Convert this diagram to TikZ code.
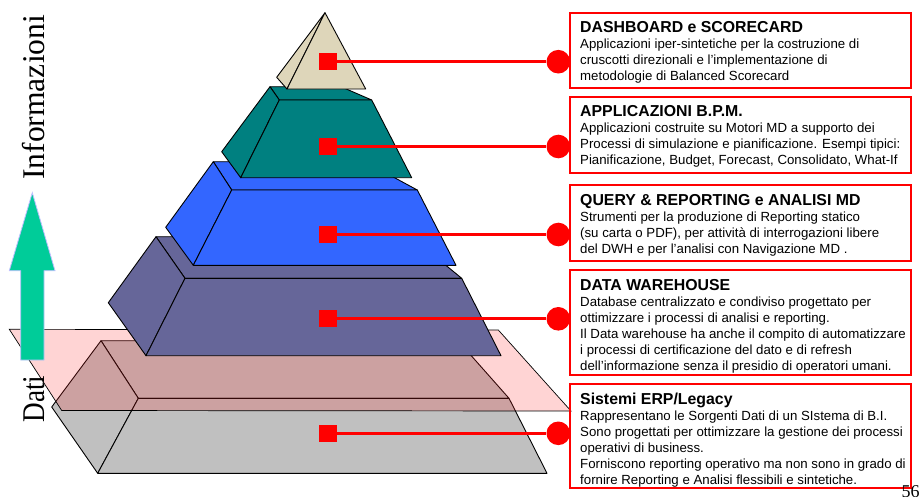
\documentclass[tikz,border=0pt]{standalone}
\usepackage{graphicx}
\usepackage{fontspec}
\setmainfont{Liberation Serif}
\setsansfont{Liberation Sans}

\definecolor{tipbeige}{RGB}{222,214,186}
\definecolor{layerteal}{RGB}{0,128,128}
\definecolor{layerblue}{RGB}{51,102,255}
\definecolor{layerpurple}{RGB}{102,102,153}
\definecolor{layergray}{RGB}{192,192,192}
\definecolor{planepink}{RGB}{255,40,40}
\definecolor{arrowgreen}{RGB}{0,204,153}
\definecolor{arrowedge}{RGB}{190,190,255}
\definecolor{markred}{RGB}{255,0,0}

\newcommand\boxtitle[1]{{\fontsize{15.85}{16}\selectfont\bfseries #1}}

\begin{document}
\begin{tikzpicture}[x=1pt,y=-1pt,
  face/.style={draw=black,line width=0.9pt,line join=round},
  marker/.style={rectangle,fill=markred,minimum size=17.3pt,inner sep=0pt},
  dot/.style={circle,fill=markred,minimum size=23.6pt,inner sep=0pt},
  conn/.style={draw=markred,line width=3pt},
  infobox/.style={rectangle,draw=markred,line width=2pt,anchor=north west,
    inner sep=0pt,outer sep=0pt,minimum width=341pt},
  boxtext/.style={anchor=base west,inner sep=0pt,
    font=\sffamily\fontsize{13.25}{16}\selectfont},
  sidelabel/.style={rotate=90,anchor=base west,inner sep=0pt,
    font=\rmfamily\fontsize{31.6}{36}\selectfont}]
\useasboundingbox (0,0) rectangle (922,496);

% --- base layer: ERP / legacy systems
\filldraw[face,fill=layergray] (101,340.7) -- (458,340.7) -- (509,398.3) -- (138.3,398.3) -- cycle;
\filldraw[face,fill=layergray] (101,340.7) -- (138.3,398.3) -- (97.7,473.3) -- (51.7,407) -- cycle;
\filldraw[face,fill=layergray] (138.3,398.3) -- (509,398.3) -- (547,473.3) -- (97.7,473.3) -- cycle;

% --- translucent separation plane between data and information
\filldraw[fill=planepink,fill opacity=0.2,draw=black,line width=0.7pt]
  (9.3,329.3) -- (498.3,330) -- (571,411) -- (61.7,410.5) -- cycle;

% --- data warehouse layer
\filldraw[face,fill=layerpurple] (156,236.7) -- (411,236.7) -- (461.7,278.3) -- (185,278.3) -- cycle;
\filldraw[face,fill=layerpurple] (156,236.7) -- (185,278.3) -- (146,355.7) -- (108.3,302.7) -- cycle;
\filldraw[face,fill=layerpurple] (185,278.3) -- (461.7,278.3) -- (501,355.7) -- (146,355.7) -- cycle;

% --- query & reporting layer
\filldraw[face,fill=layerblue] (213.3,161.7) -- (365,161.7) -- (417.3,190) -- (231.7,190) -- cycle;
\filldraw[face,fill=layerblue] (213.3,161.7) -- (231.7,190) -- (193.3,265.3) -- (165.7,227.3) -- cycle;
\filldraw[face,fill=layerblue] (231.7,190) -- (417.3,190) -- (456,265.3) -- (193.3,265.3) -- cycle;

% --- BPM layer
\filldraw[face,fill=layerteal] (270,86.7) -- (341,86.7) -- (371.7,100) -- (279.3,100) -- cycle;
\filldraw[face,fill=layerteal] (270,86.7) -- (279.3,100) -- (240.7,177.7) -- (221.7,151.7) -- cycle;
\filldraw[face,fill=layerteal] (279.3,100) -- (371.7,100) -- (411.7,177.7) -- (240.7,177.7) -- cycle;

% --- dashboard tip
\filldraw[face,fill=tipbeige] (325,12.7) -- (287,89) -- (276.7,77.3) -- cycle;
\filldraw[face,fill=tipbeige] (325,12.7) -- (365.7,89) -- (287,89) -- cycle;

% --- upward arrow from data to information
\filldraw[fill=arrowgreen,draw=arrowedge,line width=0.8pt,line join=miter]
  (20.7,360) -- (20.7,270.7) -- (9.3,270.7) -- (32.3,192.7) -- (55,270.7)
  -- (44,270.7) -- (44,360) -- cycle;
\node[sidelabel] (info) at (45,180) {Informazioni};
\node[sidelabel] (dati) at (45,422.7) {\scalebox{0.86}[1]{Dati}};

% --- description boxes
\node[infobox,minimum height=75pt]   (b1) at (570,12.7) {};
\node[infobox,minimum height=76.6pt] (b2) at (570,96.7) {};
\node[infobox,minimum height=76pt]   (b3) at (570,185) {};
\node[infobox,minimum height=105pt]  (b4) at (570,270) {};
\node[infobox,minimum height=104.3pt](b5) at (570,384) {};

\node[boxtext] (t1) at (580,32.6) {\begin{tabular}[t]{@{}l@{}}
  \boxtitle{DASHBOARD e SCORECARD}\\
  Applicazioni iper-sintetiche per la costruzione di\\
  cruscotti direzionali e l’implementazione di\\
  metodologie di Balanced Scorecard\end{tabular}};
\node[boxtext] (t2) at (580,116.7) {\begin{tabular}[t]{@{}l@{}}
  \boxtitle{APPLICAZIONI B.P.M.}\\
  Applicazioni costruite su Motori MD a supporto dei\\
  Processi di simulazione e pianificazione. Esempi tipici:\\
  Pianificazione, Budget, Forecast, Consolidato, What-If\end{tabular}};
\node[boxtext] (t3) at (580,205.7) {\begin{tabular}[t]{@{}l@{}}
  \boxtitle{QUERY \& REPORTING e ANALISI MD}\\
  Strumenti per la produzione di Reporting statico\\
  (su carta o PDF), per attività di interrogazioni libere\\
  del DWH e per l’analisi con Navigazione MD .\end{tabular}};
\node[boxtext] (t4) at (580,290) {\begin{tabular}[t]{@{}l@{}}
  \boxtitle{DATA WAREHOUSE}\\
  Database centralizzato e condiviso progettato per\\
  ottimizzare i processi di analisi e reporting.\\
  Il Data warehouse ha anche il compito di automatizzare\\
  i processi di certificazione del dato e di refresh\\
  dell’informazione senza il presidio di operatori umani.\end{tabular}};
\node[boxtext] (t5) at (580,404) {\begin{tabular}[t]{@{}l@{}}
  \boxtitle{Sistemi ERP/Legacy}\\
  Rappresentano le Sorgenti Dati di un SIstema di B.I.\\
  Sono progettati per ottimizzare la gestione dei processi\\
  operativi di business.\\
  Forniscono reporting operativo ma non sono in grado di\\
  fornire Reporting e Analisi flessibili e sintetiche.\end{tabular}};

% --- markers on the layers and their leader lines
\node[marker] (s1) at (328,61.7) {};
\node[marker] (s2) at (328,146.5) {};
\node[marker] (s3) at (328,234.5) {};
\node[marker] (s4) at (328,318.8) {};
\node[marker] (s5) at (328,433.3) {};
\node[dot] (c1) at (558.3,61.7) {};
\node[dot] (c2) at (558.3,146.5) {};
\node[dot] (c3) at (558.3,234.5) {};
\node[dot] (c4) at (558.3,318.8) {};
\node[dot] (c5) at (558.3,433.3) {};
\foreach \i in {1,...,5} \draw[conn] (s\i) -- (c\i);

% --- page number
\node[anchor=base west,inner sep=0pt,font=\rmfamily\fontsize{18}{20}\selectfont]
  (page) at (901.5,497.6) {56};
\end{tikzpicture}
\end{document}
